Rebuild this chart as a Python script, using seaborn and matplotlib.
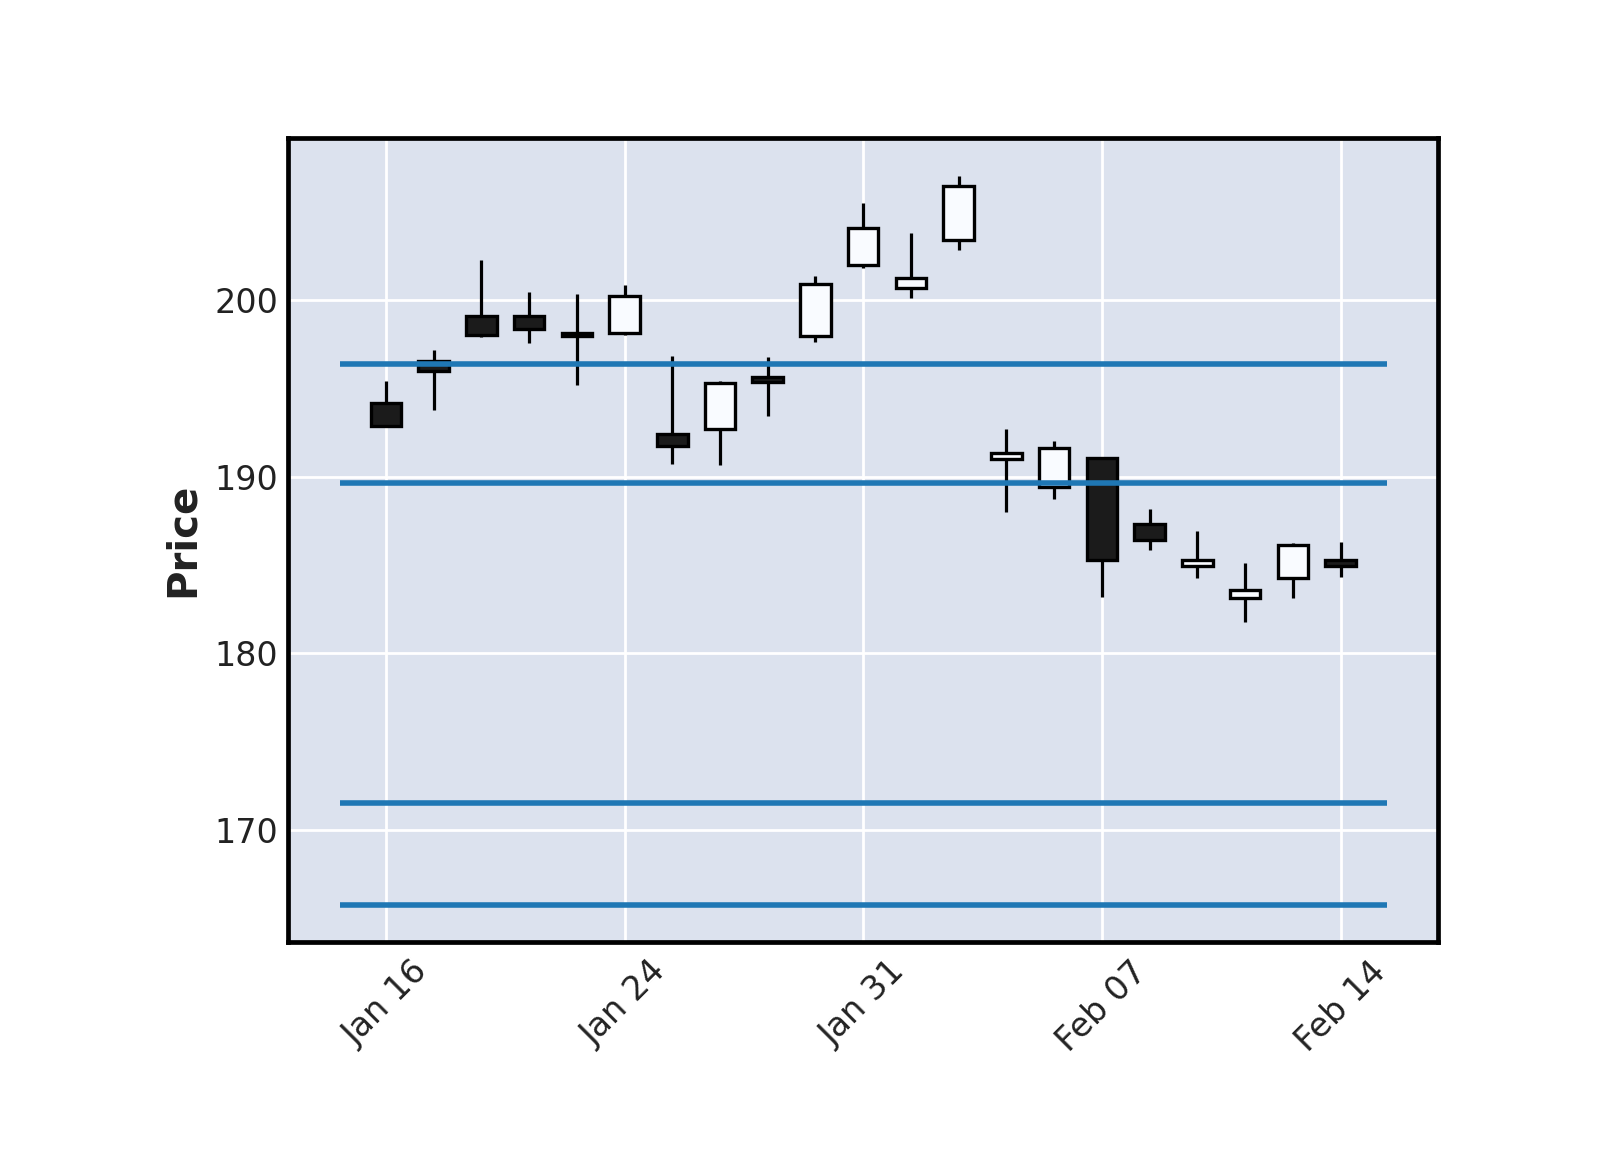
import numpy as np
import pandas as pd
import matplotlib
matplotlib.use("Agg")
import matplotlib.pyplot as plt
import seaborn as sns

# ---- data ----
opens  = [194.15, 196.57, 199.09, 199.09, 198.12, 198.11, 192.42, 192.72, 195.62, 197.98,
          201.98, 200.70, 203.40, 190.98, 189.42, 191.08, 187.34, 184.93, 183.14, 184.27, 185.27]
closes = [192.89, 196.00, 198.02, 198.36, 197.98, 200.23, 191.75, 195.29, 195.36, 200.91,
          204.07, 201.25, 206.47, 191.36, 191.64, 185.29, 186.40, 185.30, 183.60, 186.13, 184.96]
highs  = [195.43, 197.19, 202.26, 200.47, 200.32, 200.87, 196.85, 195.43, 196.79, 201.38,
          205.51, 203.77, 207.03, 192.72, 192.04, 191.13, 188.15, 186.91, 185.10, 186.23, 186.32]
lows   = [192.80, 193.77, 197.89, 197.55, 195.19, 198.00, 190.72, 190.66, 193.44, 197.64,
          201.79, 200.13, 202.83, 187.99, 188.72, 183.17, 185.83, 184.25, 181.76, 183.14, 184.31]
hline_levels = [196.38, 189.66, 171.53, 165.74]
tick_index = [0, 5, 10, 15, 20]
tick_labels = ["Jan 16", "Jan 24", "Jan 31", "Feb 07", "Feb 14"]

df = pd.DataFrame({"Open": opens, "High": highs, "Low": lows, "Close": closes})
df["idx"] = np.arange(len(df))
df["up"] = df["Close"] >= df["Open"]

# ---- style ----
sns.set_theme(style="darkgrid", rc={
    "axes.facecolor": "#DCE2EE",
    "grid.color": "white",
    "grid.linewidth": 1.0,
    "axes.edgecolor": "black",
    "axes.linewidth": 1.7,
    "text.color": "#222222",
    "xtick.color": "#222222",
    "ytick.color": "#222222",
    "axes.labelcolor": "#222222",
})
plt.rcParams["font.family"] = ["DejaVu Sans"]

fig = plt.figure(figsize=(8, 5.75), dpi=200)
ax = fig.add_axes([0.18, 0.1806, 0.719, 0.6997])

up_color = "#F9FBFF"
down_color = "#1B1B1B"
body_w = 0.64

# wicks
ax.vlines(df["idx"], df["Low"], df["High"], color="black", linewidth=1.15, zorder=3)
# bodies
bottoms = np.minimum(df["Open"], df["Close"])
heights = np.abs(df["Close"] - df["Open"])
colors = [up_color if u else down_color for u in df["up"]]
ax.bar(df["idx"], heights, bottom=bottoms, width=body_w, color=colors,
       edgecolor="black", linewidth=1.2, zorder=4)

# horizontal lines
for lvl in hline_levels:
    ax.plot([-0.96, 20.98], [lvl, lvl], color="#1f77b4", linewidth=2.0,
            solid_capstyle="butt", zorder=5)

ax.set_xlim(-2.05, 22.05)
ax.set_ylim(163.65, 209.19)
ax.set_yticks([170, 180, 190, 200])
ax.set_xticks(tick_index)
ax.set_xticklabels(tick_labels, rotation=45, ha="center")
ax.tick_params(axis="x", length=0, labelsize=12, pad=4.5)
ax.tick_params(axis="y", length=0, labelsize=12, pad=3.6)
ax.set_ylabel("Price", fontsize=14.5, fontweight="bold", labelpad=4)
ax.grid(True, color="white", linewidth=1.0)
ax.set_axisbelow(True)
for s in ax.spines.values():
    s.set_visible(True)
    s.set_color("black")
    s.set_linewidth(1.7)

fig.savefig("out.png", dpi=200)
